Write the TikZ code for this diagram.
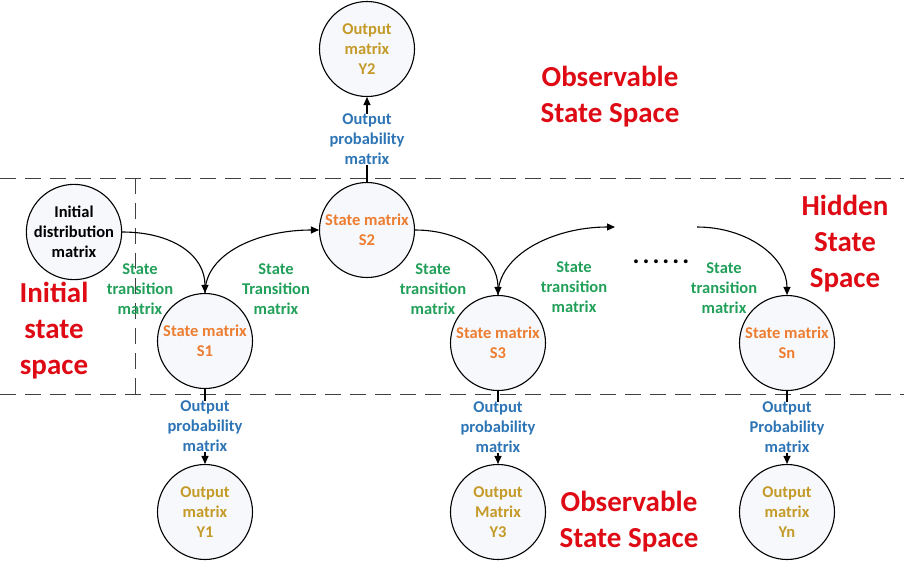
\documentclass[tikz,border=0pt]{standalone}
\usepackage{fontspec}
\setmainfont{Carlito}
\usetikzlibrary{arrows.meta}
\definecolor{cgreen}{RGB}{34,160,90}
\definecolor{corange}{RGB}{237,125,49}
\definecolor{cgold}{RGB}{196,154,40}
\definecolor{cblue}{RGB}{46,117,182}
\definecolor{cred}{RGB}{222,10,20}
\definecolor{cfill}{RGB}{247,248,252}
\begin{document}
\begin{tikzpicture}[x=1pt,y=-1pt,
  every node/.style={font=\bfseries\fontsize{16.5}{20}\selectfont, align=center, inner sep=1pt},
  circ/.style={circle, draw, line width=1.1pt, minimum size=95pt, inner sep=0pt, fill=cfill},
  state/.style={circ, text=corange},
  outp/.style={circ, text=cgold},
  tlabel/.style={text=cgreen},
  plabel/.style={text=cblue, fill=white, inner sep=0.5pt},
  big/.style={text=cred, font=\bfseries\fontsize{29}{36}\selectfont},
  arr/.style={line width=1.1pt, -{Triangle[length=8pt,width=7pt]}},
  sep/.style={line width=0.9pt, dash pattern=on 16pt off 9pt, draw=black!75},
]
\useasboundingbox (0,0) rectangle (904,568);
% separators
\draw[sep] (0,178) -- (904,178);
\draw[sep] (0,394) -- (904,394);
\draw[sep] (135,178) -- (135,394);
% nodes
\node[circ, text=black] (I) at (74,232) {Initial\\distribution\\matrix};
\node[state] (S1) at (205,341) {State matrix\\S1};
\node[state] (S2) at (367,230) {State matrix\\S2};
\node[state] (S3) at (498,343) {State matrix\\S3};
\node[state] (Sn) at (787,343) {State matrix\\Sn};
\node[outp] (Y2) at (367,49) {Output\\matrix\\Y2};
\node[outp] (Y1) at (205,512) {Output\\matrix\\Y1};
\node[outp] (Y3) at (498,512) {Output\\Matrix\\Y3};
\node[outp] (Yn) at (787,512) {Output\\matrix\\Yn};
\coordinate (c1) at (615,227);
\coordinate (c2) at (697,227);
% transitions
\draw[arr] (I.east) .. controls +(50,0) and +(0,-38) .. (S1.north);
\draw[arr] (S1.north) .. controls +(0,-40) and +(-60,0) .. (S2.west);
\draw[arr] (S2.east) .. controls +(48,0) and +(0,-38) .. (S3.north);
\draw[arr] (S3.north) .. controls +(0,-40) and +(-62,0) .. (c1);
\draw[arr] (c2) .. controls +(50,0) and +(0,-38) .. (Sn.north);
% outputs
\draw[arr] (S2.north) -- (Y2.south) node[midway, plabel] {Output\\probability\\matrix};
\draw[arr] (S1.south) -- (Y1.north) node[midway, plabel] {Output\\probability\\matrix};
\draw[arr] (S3.south) -- (Y3.north) node[midway, plabel] {Output\\probability\\matrix};
\draw[arr] (Sn.south) -- (Yn.north) node[midway, plabel] {Output\\Probability\\matrix};
% transition labels
\node[tlabel] (t1) at (140,289) {State\\transition\\matrix};
\node[tlabel] (t2) at (276,289) {State\\Transition\\matrix};
\node[tlabel] (t3) at (433,289) {State\\transition\\matrix};
\node[tlabel] (t4) at (574,287) {State\\transition\\matrix};
\node[tlabel] (t5) at (724,288) {State\\transition\\matrix};
\node[font=\bfseries\fontsize{26}{26}\selectfont, inner sep=0pt] (dots) at (661,262) {.\kern3pt.\kern3pt.\kern3pt.\kern3pt.\kern3pt.};
% region titles
\node[big] (obs1) at (610,97) {Observable\\State Space};
\node[big] (hid) at (845,244) {Hidden\\State\\Space};
\node[big] (ini) at (54,331) {Initial\\state\\space};
\node[big] (obs2) at (629,522) {Observable\\State Space};
\end{tikzpicture}
\end{document}
